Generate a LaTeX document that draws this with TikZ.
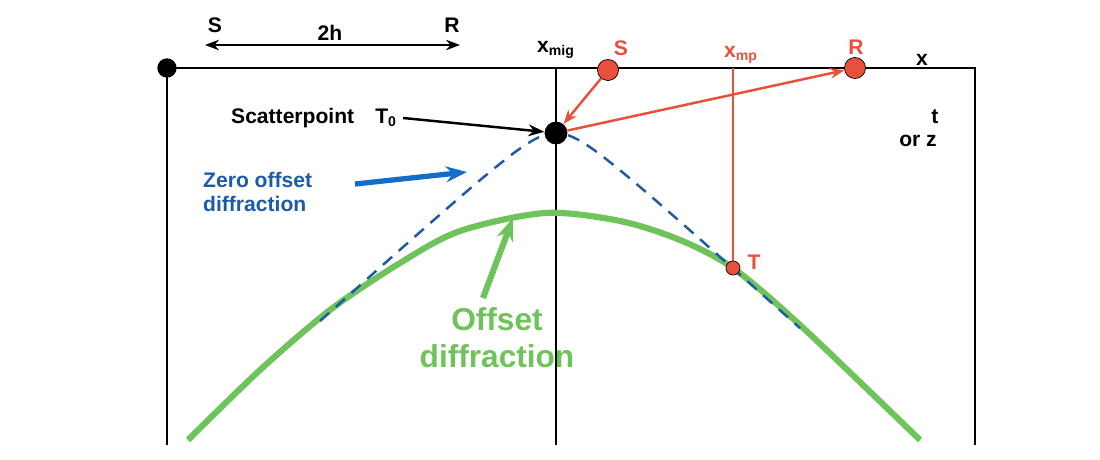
\documentclass[tikz,border=0pt]{standalone}
\usepackage{fontspec}
\setmainfont{Liberation Sans}
\usetikzlibrary{arrows.meta}
\definecolor{rd}{RGB}{232,80,60}
\definecolor{bl}{RGB}{30,90,170}
\definecolor{ar}{RGB}{20,110,200}
\definecolor{gr}{RGB}{110,195,90}
\tikzset{lbl/.style={font=\bfseries\fontsize{12}{14}\selectfont},
 dot/.style={circle,fill=black,inner sep=0pt,minimum size=13pt},
 rdot/.style={circle,fill=rd,draw=black,inner sep=0pt,minimum size=12pt}}
\begin{document}
\begin{tikzpicture}[x=0.02cm,y=-0.02cm]
\useasboundingbox (0,0) rectangle (1100,460);
\draw[line width=0.8pt] (167,445) -- (167,68) -- (975,68) -- (975,445);
\draw[line width=0.8pt] (556,68) -- (556,445);
\node[dot,minimum size=11pt] (o) at (167,68) {};
% curves
\draw[gr,line width=3.5pt] plot[smooth,tension=0.5] coordinates {(188,440) (260,370) (330,310) (400,263) (460,231) (545,213) (620,221) (680,240) (733,268) (800,325) (920,440)};
\draw[bl,line width=1.4pt,dash pattern=on 7pt off 5pt,domain=320:800,samples=80] plot (\x,{133+10*sqrt(2.6*2.6+0.81*((\x-556)/10)*((\x-556)/10))-26});
% red
\draw[rd,line width=0.8pt] (733,68) -- (733,265);
\node[dot] (sp) at (556,133) {};
\node[rdot] (s) at (608,70) {};
\node[rdot] (r) at (855,68) {};
\node[rdot,minimum size=8pt] (t) at (733,268) {};
\draw[rd,line width=1.4pt,-{Stealth[length=8pt]}] (s) -- (sp);
\draw[rd,line width=1.4pt,-{Stealth[length=8pt]}] (sp) -- (r);
% labels
\node[lbl] (sl) at (215,25) {S};
\node[lbl] (rl) at (452,25) {R};
\node[lbl] at (330,33) {2h};
\coordinate (a1) at (205,45); \coordinate (a2) at (460,45);
\draw[line width=0.8pt,{Stealth[length=8pt]}-{Stealth[length=8pt]}] (a1) -- (a2);
\node[lbl] at (556,50) {x\textsubscript{mig}};
\node[lbl,rd] at (621,48) {S};
\node[lbl,rd] at (856,47) {R};
\node[lbl,rd] at (741,55) {x\textsubscript{mp}};
\node[lbl] at (922,60) {x};
\node[lbl] at (935,117) {t};
\node[lbl] at (918,141) {or z};
\node[lbl,rd] at (754,262) {T};
\node[lbl,anchor=west] (scl) at (225,118) {Scatterpoint\quad T\textsubscript{0}};
\draw[line width=1.4pt,-{Stealth[length=9pt]}] (scl.east) -- (sp);
\node[lbl,bl,align=left,anchor=west] (zo) at (197,192) {Zero offset\\diffraction};
\coordinate (zt) at (467,172);
\draw[ar,line width=3pt,-{Stealth[length=12pt]}] (355,184) -- (zt);
\node[gr,font=\bfseries\fontsize{18}{21}\selectfont,align=center] (od) at (497,338) {Offset\\diffraction};
\coordinate (gt) at (513,218);
\draw[gr,line width=3.5pt,-{Stealth[length=13pt]}] (483,298) -- (gt);
\end{tikzpicture}
\end{document}
